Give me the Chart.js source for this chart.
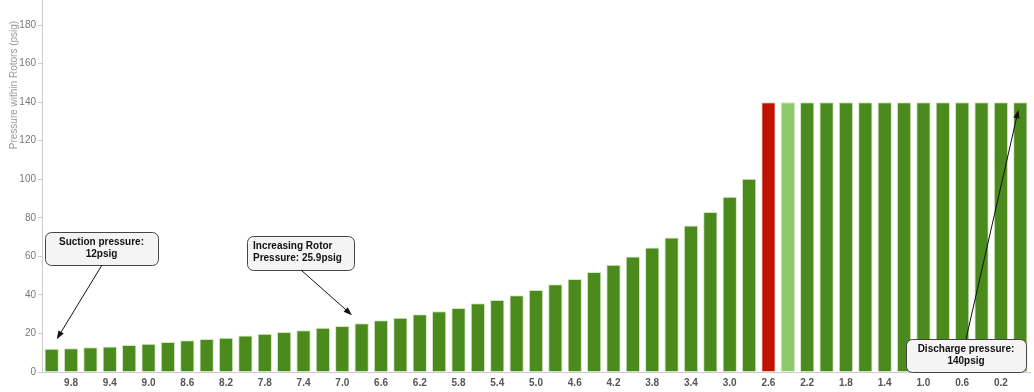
<!DOCTYPE html>
<html>
<head>
<meta charset="utf-8">
<script src="https://cdn.jsdelivr.net/npm/chart.js@4/dist/chart.umd.min.js"></script>
<style>
    body { margin: 0; background: #fff; }
    canvas { display: block; }
</style>
</head>
<body>
<canvas id="rotorChart" width="1034" height="392"></canvas>
<script>
// rotor position (labels) and pressure in psig
const positions = [
    '10.0', '9.8', '9.6', '9.4', '9.2', '9.0', '8.8', '8.6', '8.4', '8.2',
    '8.0', '7.8', '7.6', '7.4', '7.2', '7.0', '6.8', '6.6', '6.4', '6.2',
    '6.0', '5.8', '5.6', '5.4', '5.2', '5.0', '4.8', '4.6', '4.4', '4.2',
    '4.0', '3.8', '3.6', '3.4', '3.2', '3.0', '2.8', '2.6', '2.4', '2.2',
    '2.0', '1.8', '1.6', '1.4', '1.2', '1.0', '0.8', '0.6', '0.4', '0.2', '0.0'
];
const pressures = [
    12.0, 12.3, 12.8, 13.2, 14.0, 14.7, 15.6, 16.5, 17.1, 17.8,
    18.9, 19.9, 20.8, 21.6, 23.0, 23.9, 25.3, 26.8, 28.2, 30.0,
    31.5, 33.2, 35.7, 37.4, 39.8, 42.6, 45.5, 48.3, 51.9, 55.7,
    59.9, 64.6, 69.8, 76.0, 83.0, 90.9, 100.3, 140, 140, 140,
    140, 140, 140, 140, 140, 140, 140, 140, 140, 140, 140
];
const yTicks = [0, 20, 40, 60, 80, 100, 120, 140, 160, 180];
const dischargeStart = '2.6';
const dischargeOpen = '2.4';

const notes = [
    { lines: ['Suction pressure:', '12psig'], align: 'center', box: [45, 232, 113, 33], from: [102, 265], tip: [0.26, 17] },
    { lines: ['Increasing Rotor', 'Pressure: 25.9psig'], align: 'left', box: [247, 236, 107, 34], from: [301, 270], tip: [15.5, 29.5] },
    { lines: ['Discharge pressure:', '140psig'], align: 'center', box: [906, 339, 120, 33], from: [966, 339], tip: [49.9, 136] }
];

function barColor (label) {
    if (label === dischargeStart) return '#c11200';
    if (label === dischargeOpen) return '#8fca68';
    return '#4b8a1d';
}

function arrow (ctx, x1, y1, x2, y2) {
    const ang = Math.atan2(y2 - y1, x2 - x1);
    const len = 9;
    ctx.beginPath();
    ctx.moveTo(x1, y1);
    ctx.lineTo(x2 - Math.cos(ang) * 4, y2 - Math.sin(ang) * 4);
    ctx.stroke();
    ctx.beginPath();
    ctx.moveTo(x2, y2);
    ctx.lineTo(x2 - len * Math.cos(ang - 0.35), y2 - len * Math.sin(ang - 0.35));
    ctx.lineTo(x2 - len * Math.cos(ang + 0.35), y2 - len * Math.sin(ang + 0.35));
    ctx.closePath();
    ctx.fill();
}

const calloutPlugin = {
    id: 'callouts',
    afterDatasetsDraw (chart) {
        const ctx = chart.ctx;
        const xs = chart.scales.x;
        const ys = chart.scales.y;

        // axis title sits near the top of the axis
        ctx.save();
        ctx.translate(14, 85);
        ctx.rotate(-Math.PI / 2);
        ctx.fillStyle = '#999';
        ctx.font = '10px "Liberation Sans", Arial, sans-serif';
        ctx.textAlign = 'center';
        ctx.textBaseline = 'middle';
        ctx.fillText('Pressure within Rotors (psig)', 0, 0);
        ctx.restore();

        notes.forEach(n => {
            const [bx, by, bw, bh] = n.box;
            ctx.save();
            ctx.fillStyle = '#f4f4f4';
            ctx.strokeStyle = '#444';
            ctx.lineWidth = 1;
            ctx.beginPath();
            ctx.roundRect(bx + 0.5, by + 0.5, bw, bh, 6);
            ctx.fill();
            ctx.stroke();

            ctx.fillStyle = '#111';
            ctx.font = 'bold 10px "Liberation Sans", Arial, sans-serif';
            ctx.textBaseline = 'middle';
            ctx.textAlign = n.align;
            const tx = n.align === 'center' ? bx + bw / 2 : bx + 6;
            n.lines.forEach((line, i) => {
                ctx.fillText(line, tx, by + 10 + i * 12);
            });

            ctx.strokeStyle = '#111';
            ctx.fillStyle = '#111';
            const tipX = xs.getPixelForValue(n.tip[0]);
            const tipY = ys.getPixelForValue(n.tip[1]);
            arrow(ctx, n.from[0], n.from[1], tipX, tipY);
            ctx.restore();
        });
    }
};

const ctx = document.getElementById('rotorChart').getContext('2d');

new Chart(ctx, {
    type: 'bar',
    data: {
        labels: positions,
        datasets: [{
            label: 'Pressure',
            data: pressures,
            backgroundColor: positions.map(barColor),
            borderColor: 'rgba(205, 230, 190, 0.9)',
            borderWidth: 1,
            barPercentage: 0.74,
            categoryPercentage: 1
        }]
    },
    options: {
        responsive: false,
        animation: false,
        layout: {
            padding: { top: 0, right: 4, left: 0, bottom: 0 }
        },
        plugins: {
            legend: { display: false },
            tooltip: { enabled: false }
        },
        scales: {
            x: {
                grid: { display: false, drawTicks: false },
                border: { color: '#ccc' },
                afterFit (scale) { scale.height = 20; },
                ticks: {
                    autoSkip: false,
                    maxRotation: 0,
                    padding: 5,
                    color: '#555',
                    font: { family: '"Liberation Sans", Arial, sans-serif', size: 10, weight: 'bold' },
                    callback: (val, i) => (i % 2 === 1 ? positions[i] : '')
                }
            },
            y: {
                min: 0,
                max: 193,
                afterFit (scale) {
                    scale.width = 42;
                    scale.paddingTop = 0;
                    scale.paddingBottom = 0;
                },
                afterBuildTicks (scale) {
                    scale.ticks = yTicks.map(v => ({ value: v }));
                },
                grid: {
                    drawOnChartArea: false,
                    drawTicks: true,
                    tickLength: 4,
                    color: '#ccc'
                },
                border: { color: '#ccc' },
                ticks: {
                    padding: 2,
                    color: '#777',
                    font: { family: '"Liberation Sans", Arial, sans-serif', size: 10 }
                }
            }
        }
    },
    plugins: [calloutPlugin]
});
</script>
</body>
</html>
